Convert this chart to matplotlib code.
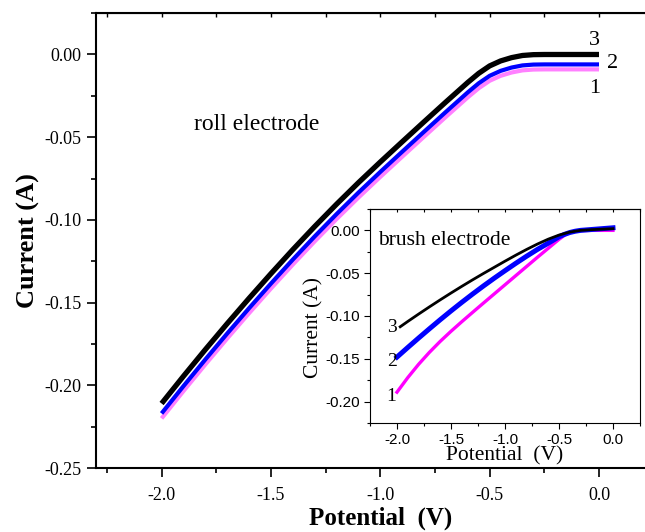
import matplotlib
matplotlib.use('Agg')
import matplotlib.pyplot as plt
from matplotlib.ticker import MultipleLocator, NullFormatter

serif = 'Liberation Serif'
sans = 'Liberation Sans'

# roll electrode (main plot)
main_v = [-2.0, -1.9, -1.8, -1.7, -1.6, -1.5, -1.4, -1.3, -1.2, -1.1, -1.0,
          -0.9, -0.8, -0.7, -0.6, -0.55, -0.5, -0.45, -0.4, -0.35, -0.3,
          -0.25, -0.2, -0.1, 0.0]
main_3 = [-0.211, -0.1945, -0.1784, -0.1627, -0.1474, -0.1325, -0.1180,
          -0.1040, -0.0905, -0.0775, -0.0650, -0.0528, -0.0407, -0.0287,
          -0.0169, -0.0114, -0.0069, -0.0039, -0.0019, -0.0006, -0.0001,
          0.0, 0.0, 0.0, 0.0]
main_2 = [-0.217, -0.2005, -0.1844, -0.1687, -0.1534, -0.1385, -0.1240,
          -0.1100, -0.0965, -0.0835, -0.0710, -0.0588, -0.0467, -0.0347,
          -0.0229, -0.0174, -0.0129, -0.0099, -0.0079, -0.0066, -0.0061,
          -0.006, -0.006, -0.006, -0.006]
main_1 = [-0.220, -0.2035, -0.1874, -0.1717, -0.1564, -0.1415, -0.1270,
          -0.1130, -0.0995, -0.0865, -0.0740, -0.0618, -0.0497, -0.0377,
          -0.0259, -0.0204, -0.0159, -0.0129, -0.0109, -0.0096, -0.0091,
          -0.009, -0.009, -0.009, -0.009]

# brush electrode (inset)
ins_v3 = [-1.97, -1.9, -1.8, -1.7, -1.6, -1.5, -1.4, -1.3, -1.2, -1.1, -1.0,
          -0.9, -0.8, -0.7, -0.6, -0.5, -0.4, -0.3, -0.2, -0.1, 0.0]
ins_3 = [-0.1126, -0.1064, -0.0978, -0.0894, -0.0812, -0.0732, -0.0654,
         -0.0578, -0.0504, -0.0432, -0.0360, -0.0290, -0.0223, -0.0160,
         -0.0103, -0.0055, -0.0020, 0.0, 0.0008, 0.0014, 0.002]
ins_v = [-2.0, -1.9, -1.8, -1.7, -1.6, -1.5, -1.4, -1.3, -1.2, -1.1, -1.0,
         -0.9, -0.8, -0.7, -0.6, -0.5, -0.45, -0.4, -0.35, -0.3, -0.2, -0.1, 0.0]
ins_2 = [-0.148, -0.1368, -0.1258, -0.1150, -0.1044, -0.0941, -0.0841,
         -0.0744, -0.0650, -0.0559, -0.0471, -0.0385, -0.0302, -0.0223,
         -0.0150, -0.0075, -0.0047, -0.0025, -0.0010, 0.0, 0.001, 0.002, 0.003]
ins_1 = [-0.189, -0.172, -0.1565, -0.1425, -0.1297, -0.1179, -0.1067,
         -0.0958, -0.0850, -0.0743, -0.0636, -0.0529, -0.0422, -0.0315,
         -0.0210, -0.0105, -0.0058, -0.0025, -0.0008, -0.0002, 0.0, 0.0, 0.0]

fig = plt.figure(figsize=(6.45, 5.32), dpi=100)

# main axes runs past the right edge of the picture
ax = fig.add_axes([0.1488, 0.1203, 0.8816, 0.855])
ax.plot(main_v, main_1, color='#ff80ff', lw=3.0, solid_capstyle='butt')
ax.plot(main_v, main_2, color='#0000ff', lw=3.0, solid_capstyle='butt')
ax.plot(main_v, main_3, color='black', lw=3.8, solid_capstyle='butt')
ax.set_xlim(-2.3, 0.3)
ax.set_ylim(-0.25, 0.025)
ax.xaxis.set_major_locator(MultipleLocator(0.5))
ax.xaxis.set_minor_locator(MultipleLocator(0.25))
ax.yaxis.set_major_locator(MultipleLocator(0.05))
ax.yaxis.set_minor_locator(MultipleLocator(0.025))
ax.yaxis.set_major_formatter(plt.FormatStrFormatter('%.2f'))
ax.xaxis.set_major_formatter(plt.FormatStrFormatter('%.1f'))
ax.tick_params(which='major', direction='out', length=6.5, width=1.2, labelsize=13, pad=4)
ax.tick_params(which='minor', direction='out', length=3.5, width=1.2)
ax.tick_params(axis='x', which='major', pad=7)
for lab in ax.get_xticklabels() + ax.get_yticklabels():
    lab.set_fontfamily(serif)
for s in ax.spines.values():
    s.set_linewidth(1.5)
top = ax.secondary_xaxis('top')
top.xaxis.set_major_locator(MultipleLocator(0.25))
top.xaxis.set_major_formatter(NullFormatter())
top.tick_params(direction='in', length=3, width=1.0)
ax.set_xlabel('Potential  (V)', fontfamily=serif, fontweight='bold', fontsize=18, labelpad=2)
ax.set_ylabel('Current (A)', fontfamily=serif, fontweight='bold', fontsize=19, labelpad=3)
ax.text(-1.85, -0.0454, 'roll electrode', fontfamily=serif, fontsize=17)
ax.text(-0.045, 0.006, '3', fontfamily=serif, fontsize=16)
ax.text(0.035, -0.008, '2', fontfamily=serif, fontsize=16)
ax.text(-0.045, -0.023, '1', fontfamily=serif, fontsize=16)

# inset
ins = fig.add_axes([0.5736, 0.2049, 0.4186, 0.4023])
ins.plot(ins_v, ins_1, color='#ff00ff', lw=2.4)
ins.plot(ins_v, ins_2, color='#0000ff', lw=3.6)
ins.plot(ins_v3, ins_3, color='black', lw=2.0)
ins.set_xlim(-2.25, 0.25)
ins.set_ylim(-0.225, 0.025)
ins.xaxis.set_major_locator(MultipleLocator(0.5))
ins.xaxis.set_minor_locator(MultipleLocator(0.25))
ins.yaxis.set_major_locator(MultipleLocator(0.05))
ins.yaxis.set_minor_locator(MultipleLocator(0.025))
ins.yaxis.set_major_formatter(plt.FormatStrFormatter('%.2f'))
ins.xaxis.set_major_formatter(plt.FormatStrFormatter('%.1f'))
ins.tick_params(which='major', direction='out', length=4, width=0.8, labelsize=11, pad=3)
ins.tick_params(which='minor', direction='out', length=2, width=0.8)
for lab in ins.get_xticklabels() + ins.get_yticklabels():
    lab.set_fontfamily(sans)
for s in ins.spines.values():
    s.set_linewidth(0.8)
itop = ins.secondary_xaxis('top')
itop.xaxis.set_major_locator(MultipleLocator(0.25))
itop.xaxis.set_major_formatter(NullFormatter())
itop.tick_params(direction='in', length=2.5, width=0.8)
ins.set_xlabel('Potential  (V)', fontfamily=serif, fontsize=15.5, labelpad=0)
ins.set_ylabel('Current (A)', fontfamily=serif, fontsize=15.5)
ins.yaxis.set_label_coords(-0.172, 0.444)
ins.text(-2.176, -0.0176, 'brush electrode', fontfamily=serif, fontsize=15.5)
ins.text(-2.095, -0.119, '3', fontfamily=serif, fontsize=14)
ins.text(-2.095, -0.158, '2', fontfamily=serif, fontsize=14)
ins.text(-2.095, -0.199, '1', fontfamily=serif, fontsize=14)

fig.savefig('out.png', dpi=100)
